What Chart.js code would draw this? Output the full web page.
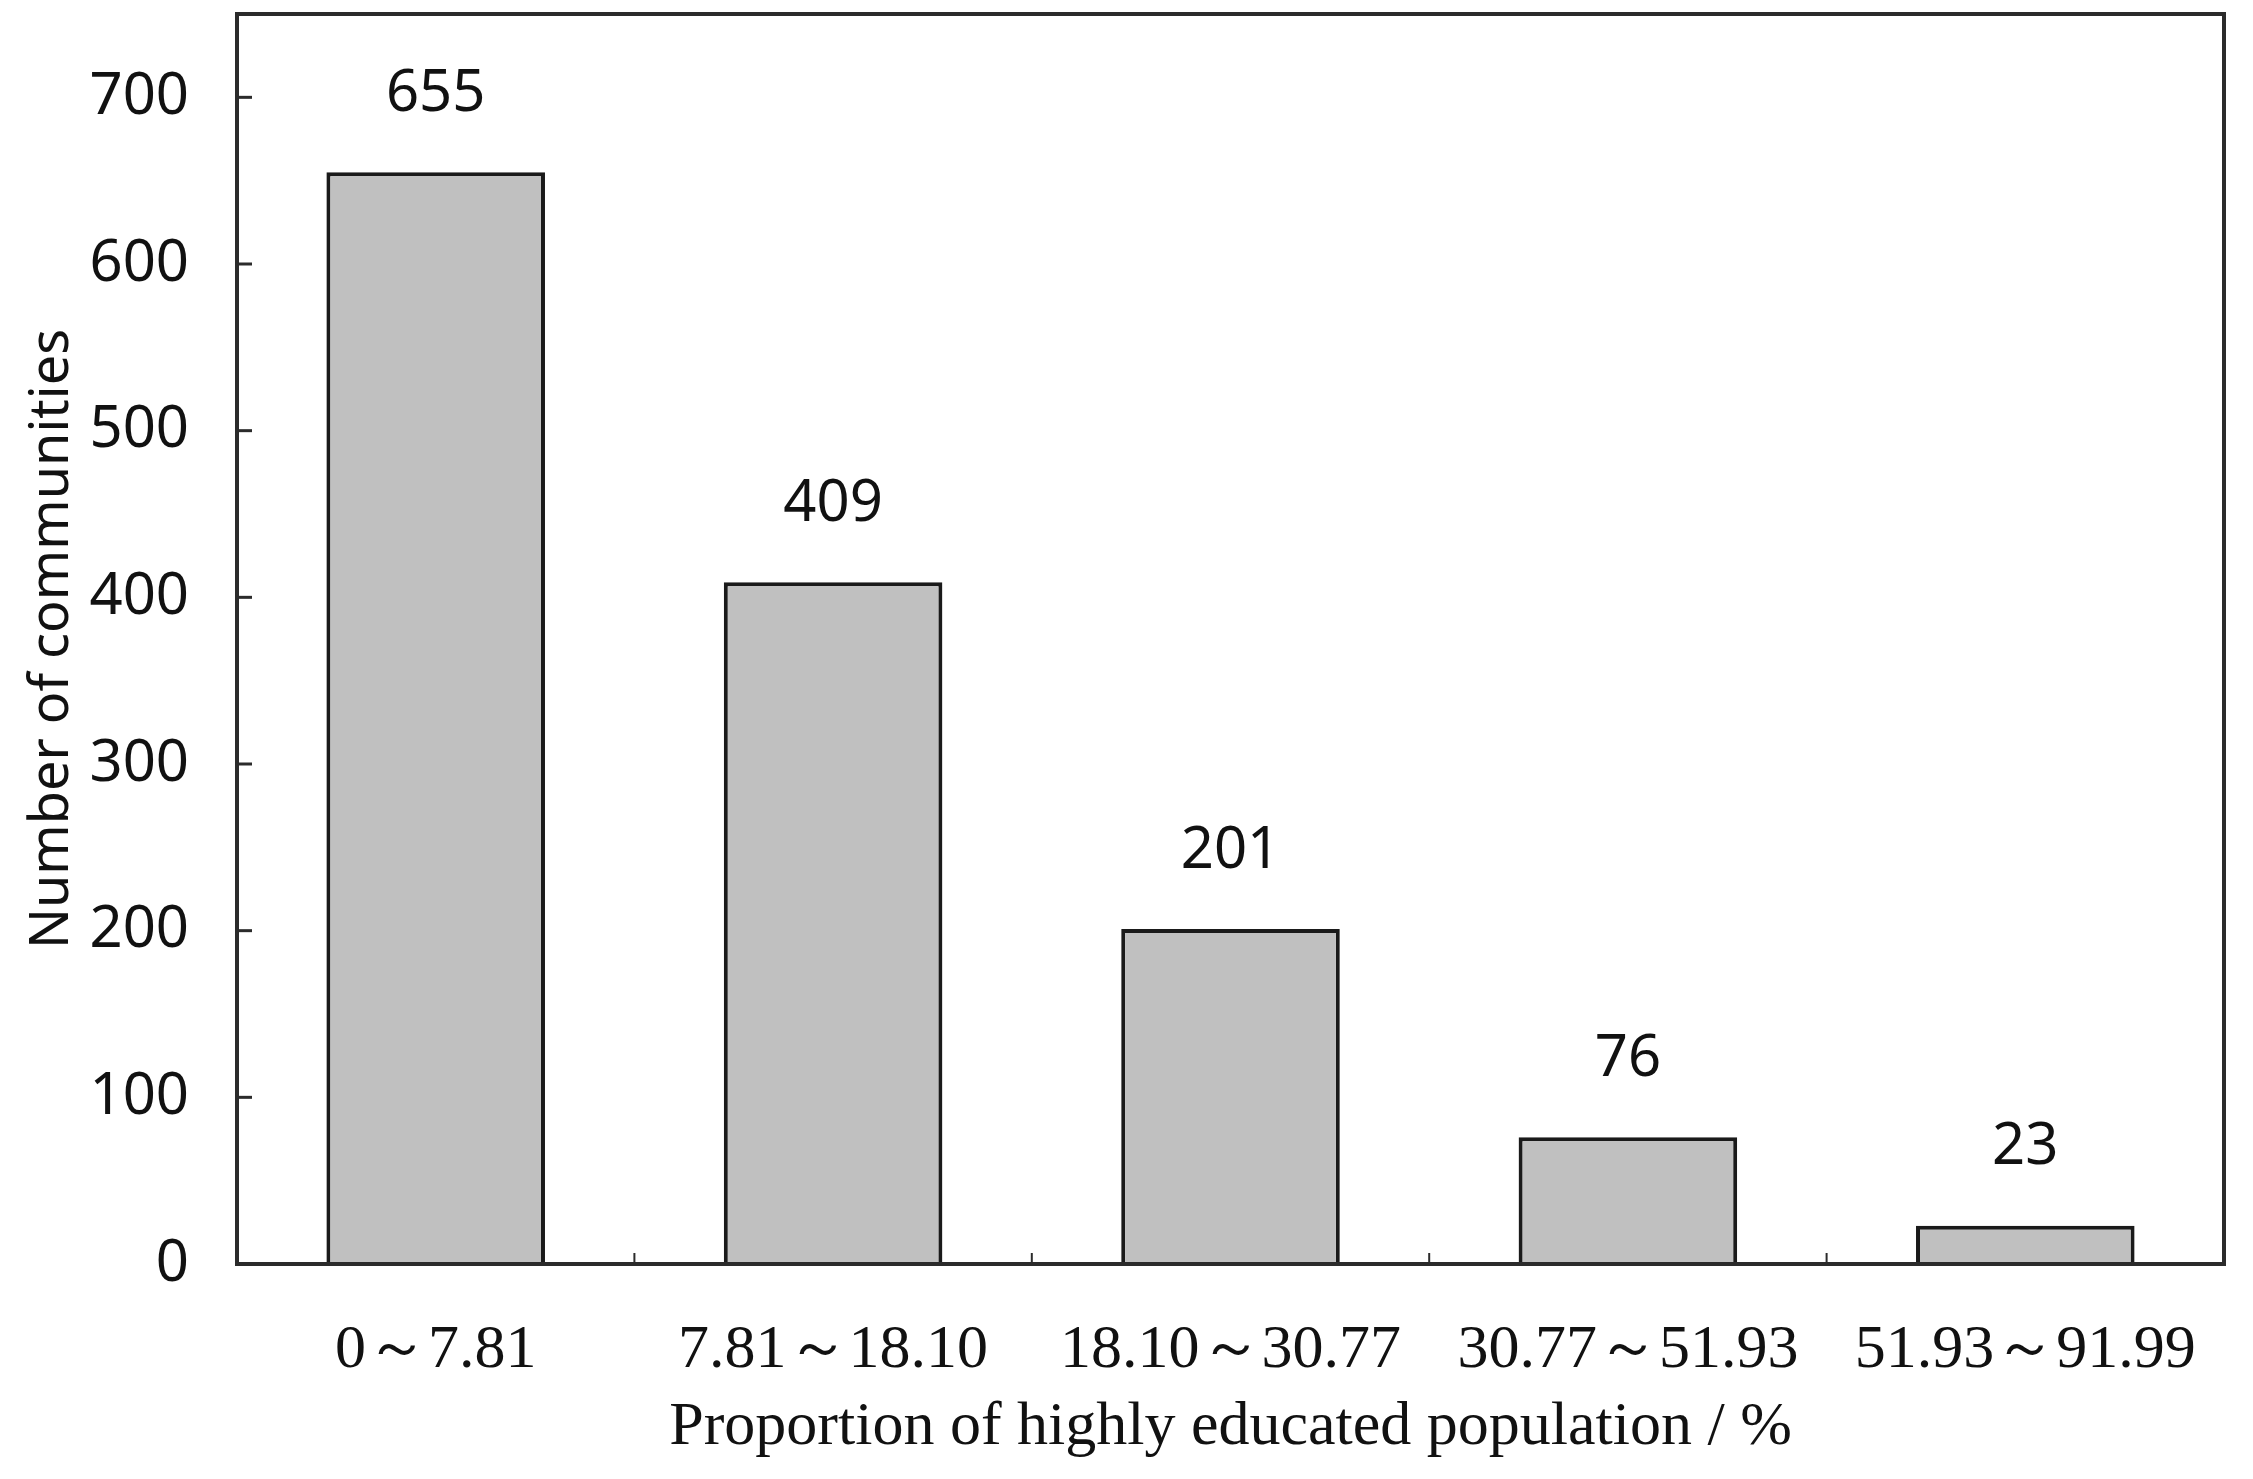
<!DOCTYPE html>
<html>
<head>
<meta charset="utf-8">
<script src="https://cdn.jsdelivr.net/npm/chart.js@4"></script>
<style>
  html, body { margin: 0; padding: 0; background: #ffffff; }
  #wrap { width: 2253px; height: 1479px; position: relative; }
</style>
</head>
<body>
<div id="wrap"><canvas id="chart"></canvas></div>
<script>
const categories = ['0～7.81', '7.81～18.10', '18.10～30.77', '30.77～51.93', '51.93～91.99'];
const counts = [655, 409, 201, 76, 23];
const yTickValues = [0, 100, 200, 300, 400, 500, 600, 700];

const serif = '"Liberation Serif", "Times New Roman", serif';
const sans = '"Noto Sans", "DejaVu Sans", sans-serif';

// frame, inward tick marks and value labels
const decorations = {
    id: 'decorations',
    afterDatasetsDraw(chart) {
        const ctx = chart.ctx;
        const area = chart.chartArea;
        const x = chart.scales.x;
        const y = chart.scales.y;

        ctx.save();
        ctx.strokeStyle = '#2b2b2b';
        ctx.lineWidth = 4;
        ctx.strokeRect(area.left, area.top, area.right - area.left, area.bottom - area.top);

        // y ticks pointing into the plot
        ctx.lineWidth = 3;
        yTickValues.forEach(v => {
            const py = y.getPixelForValue(v);
            ctx.beginPath();
            ctx.moveTo(area.left, py);
            ctx.lineTo(area.left + 15, py);
            ctx.stroke();
        });

        // x ticks at category boundaries
        ctx.lineWidth = 2;
        for (let i = 0; i < categories.length - 1; i++) {
            const px = (x.getPixelForValue(i) + x.getPixelForValue(i + 1)) / 2;
            ctx.beginPath();
            ctx.moveTo(px, area.bottom);
            ctx.lineTo(px, area.bottom - 11);
            ctx.stroke();
        }

        // value labels above the bars
        ctx.fillStyle = '#111111';
        ctx.font = '58px ' + sans;
        ctx.textAlign = 'center';
        ctx.textBaseline = 'middle';
        chart.getDatasetMeta(0).data.forEach((bar, i) => {
            ctx.fillText(String(counts[i]), bar.x, bar.y - 78);
        });
        ctx.restore();
    }
};

new Chart(document.getElementById('chart'), {
    type: 'bar',
    data: {
        labels: categories,
        datasets: [{
            data: counts,
            backgroundColor: '#c0c0c0',
            borderColor: '#1a1a1a',
            borderWidth: 4,
            barPercentage: 0.55,
            categoryPercentage: 1.0,
        }]
    },
    options: {
        responsive: true,
        maintainAspectRatio: false,
        animation: false,
        layout: { padding: { top: 14, right: 29, left: 0, bottom: 0 } },
        plugins: {
            legend: { display: false },
            tooltip: { enabled: false },
        },
        scales: {
            x: {
                grid: { display: false, drawTicks: false },
                border: { display: false },
                ticks: {
                    color: '#111111',
                    font: { family: serif, size: 62 },
                    padding: 50,
                    maxRotation: 0,
                    autoSkip: false,
                },
                title: {
                    display: true,
                    text: 'Proportion of highly educated population / %',
                    color: '#111111',
                    font: { family: serif, size: 62 },
                    padding: { top: 0, bottom: 14 },
                },
                afterFit(scale) {
                    scale.height = 215;
                    scale.paddingLeft = 0;
                    scale.paddingRight = 0;
                }
            },
            y: {
                min: 0,
                max: 750,
                grid: { display: false, drawTicks: false },
                border: { display: false },
                afterBuildTicks(scale) {
                    scale.ticks = yTickValues.map(v => ({ value: v }));
                },
                ticks: {
                    color: '#111111',
                    font: { family: sans, size: 58 },
                    padding: 48,
                },
                title: {
                    display: true,
                    text: 'Number of communities',
                    color: '#111111',
                    font: { family: sans, size: 54 },
                    padding: { top: 20, bottom: 0 },
                },
                afterFit(scale) {
                    scale.width = 237;
                    scale.paddingTop = 0;
                    scale.paddingBottom = 0;
                }
            }
        }
    },
    plugins: [decorations]
});
</script>
</body>
</html>
